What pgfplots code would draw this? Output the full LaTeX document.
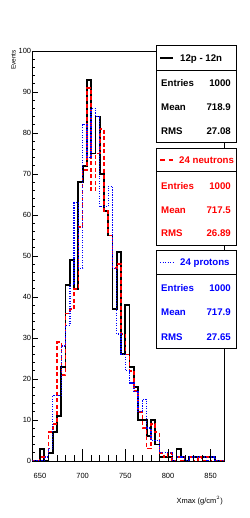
\documentclass[border=0pt]{standalone}
\usepackage{fontspec}
\setmainfont{Liberation Sans}
\usepackage{pgfplots}
\pgfplotsset{compat=1.18}
\pgfplotstableread{
x black red blue
640 0 0 0
645 0 0 0
650 3 1 0
655 0 1 1
660 2 7 3
665 7 9 16
670 11 29 16
675 23 21 28
680 43 36 33
685 49 37 43
690 42 42 63
695 68 57 47
700 72 71 82
705 93 91 74
710 75 66 86
715 84 75 84
720 70 81 62
725 61 61 62
730 55 55 67
735 37 47 47
740 51 48 31
745 26 31 26
750 38 26 22
755 23 22 19
760 18 17 17
765 10 12 12
770 10 8 15
775 6 3 8
780 10 9 5
785 4 7 5
790 1 2 2
795 1 1 2
800 1 2 2
805 0 0 0
810 3 1 1
815 1 0 1
820 0 1 0
825 1 1 1
830 1 0 1
835 1 1 1
840 1 0 1
845 1 1 0
850 1 0 1
855 0 0 0
860 0 0 0
865 0 0 0
870 0 0 0
}\hist
\newcommand{\bxf}{\bfseries\fontsize{9.7}{11}\selectfont}
\begin{document}
\begin{tikzpicture}[x=1bp,y=1bp]
\useasboundingbox (-32.3,-57) rectangle (216.7,461);
\begin{axis}[
  at={(0,0)}, anchor=south west,
  scale only axis, width=192bp, height=410bp,
  xmin=641, xmax=866, ymin=0, ymax=100,
  xtick=\empty,
  ytick={0,10,...,100}, minor y tick num=4,
  ytick pos=left, tick align=inside,
  major tick length=6bp, minor tick length=3bp,
  axis line style={line width=0.8bp},
  every tick/.style={black, line width=0.7bp},
  /pgf/number format/assume math mode=true,
  yticklabel style={font=\fontsize{7.5}{9}\selectfont, inner sep=1bp},
]
\addplot[const plot mark left, black, line width=1.8bp] table[x=x,y=black] {\hist};
\addplot[const plot mark left, red, line width=1.6bp, dash pattern=on 4bp off 2.5bp] table[x=x,y=red] {\hist};
\addplot[const plot mark left, blue, line width=1.4bp, dash pattern=on 1.2bp off 1.3bp] table[x=x,y=blue] {\hist};
\end{axis}
\begin{axis}[
  at={(0,0)}, anchor=south west,
  scale only axis, width=192bp, height=410bp,
  xmin=641, xmax=866, ymin=0, ymax=100,
  axis line style={draw=none},
  ytick=\empty,
  xtick={650,700,...,850}, minor x tick num=4,
  xtick pos=bottom, tick align=inside,
  major tick length=12bp, minor tick length=6bp,
  every tick/.style={black, line width=0.7bp},
  /pgf/number format/assume math mode=true,
  /pgf/number format/1000 sep={},
  xticklabel style={font=\fontsize{7.5}{9}\selectfont, anchor=base, yshift=-17bp},
]
\end{axis}
\node[rotate=90, anchor=east, inner sep=0, font=\fontsize{6.5}{8}\selectfont] at (-18.8,411) {Events};
\node[anchor=base east, inner sep=0, font=\fontsize{7.5}{9}\selectfont] at (190.7,-42) {Xmax (g/cm$^{2}$)};
% box 1
\filldraw[fill=white, draw=black, line width=0.9bp] (124.4,318.3) rectangle (204.4,416);
\draw[line width=0.9bp] (124.4,390.3) -- (204.4,390.3);
\draw[line width=1.8bp] (127.7,403) -- (140.7,403);
\node[anchor=base west, inner sep=0, font=\bxf] at (147.7,399.6) {12p - 12n};
\node[anchor=base west, inner sep=0, font=\bxf] at (128.7,374.9) {Entries};
\node[anchor=base east, inner sep=0, font=\bxf] at (198.7,374.9) {1000};
\node[anchor=base west, inner sep=0, font=\bxf] at (128.7,350.9) {Mean};
\node[anchor=base east, inner sep=0, font=\bxf] at (198.7,350.9) {718.9};
\node[anchor=base west, inner sep=0, font=\bxf] at (128.7,326.9) {RMS};
\node[anchor=base east, inner sep=0, font=\bxf] at (198.7,326.9) {27.08};
% box 2
\filldraw[fill=white, draw=black, line width=0.9bp] (124.4,216) rectangle (204.4,312.7);
\draw[line width=0.9bp] (124.4,289.3) -- (204.4,289.3);
\draw[red, line width=1.6bp, dash pattern=on 4.5bp off 4bp] (127.7,301) -- (140.7,301);
\node[anchor=base west, inner sep=0, font=\bxf, text=red] at (146.7,297.6) {24 neutrons};
\node[anchor=base west, inner sep=0, font=\bxf, text=red] at (128.7,271.9) {Entries};
\node[anchor=base east, inner sep=0, font=\bxf, text=red] at (198.7,271.9) {1000};
\node[anchor=base west, inner sep=0, font=\bxf, text=red] at (128.7,247.6) {Mean};
\node[anchor=base east, inner sep=0, font=\bxf, text=red] at (198.7,247.6) {717.5};
\node[anchor=base west, inner sep=0, font=\bxf, text=red] at (128.7,224.3) {RMS};
\node[anchor=base east, inner sep=0, font=\bxf, text=red] at (198.7,224.3) {26.89};
% box 3
\filldraw[fill=white, draw=black, line width=0.9bp] (124.4,112.7) rectangle (204.4,210.3);
\draw[line width=0.9bp] (124.4,187) -- (204.4,187);
\draw[blue, line width=1.4bp, dash pattern=on 1.2bp off 1.3bp] (127.7,198.7) -- (140.7,198.7);
\node[anchor=base west, inner sep=0, font=\bxf, text=blue] at (147.7,195.3) {24 protons};
\node[anchor=base west, inner sep=0, font=\bxf, text=blue] at (128.7,169.3) {Entries};
\node[anchor=base east, inner sep=0, font=\bxf, text=blue] at (198.7,169.3) {1000};
\node[anchor=base west, inner sep=0, font=\bxf, text=blue] at (128.7,145.3) {Mean};
\node[anchor=base east, inner sep=0, font=\bxf, text=blue] at (198.7,145.3) {717.9};
\node[anchor=base west, inner sep=0, font=\bxf, text=blue] at (128.7,120.9) {RMS};
\node[anchor=base east, inner sep=0, font=\bxf, text=blue] at (198.7,120.9) {27.65};
\end{tikzpicture}
\end{document}
